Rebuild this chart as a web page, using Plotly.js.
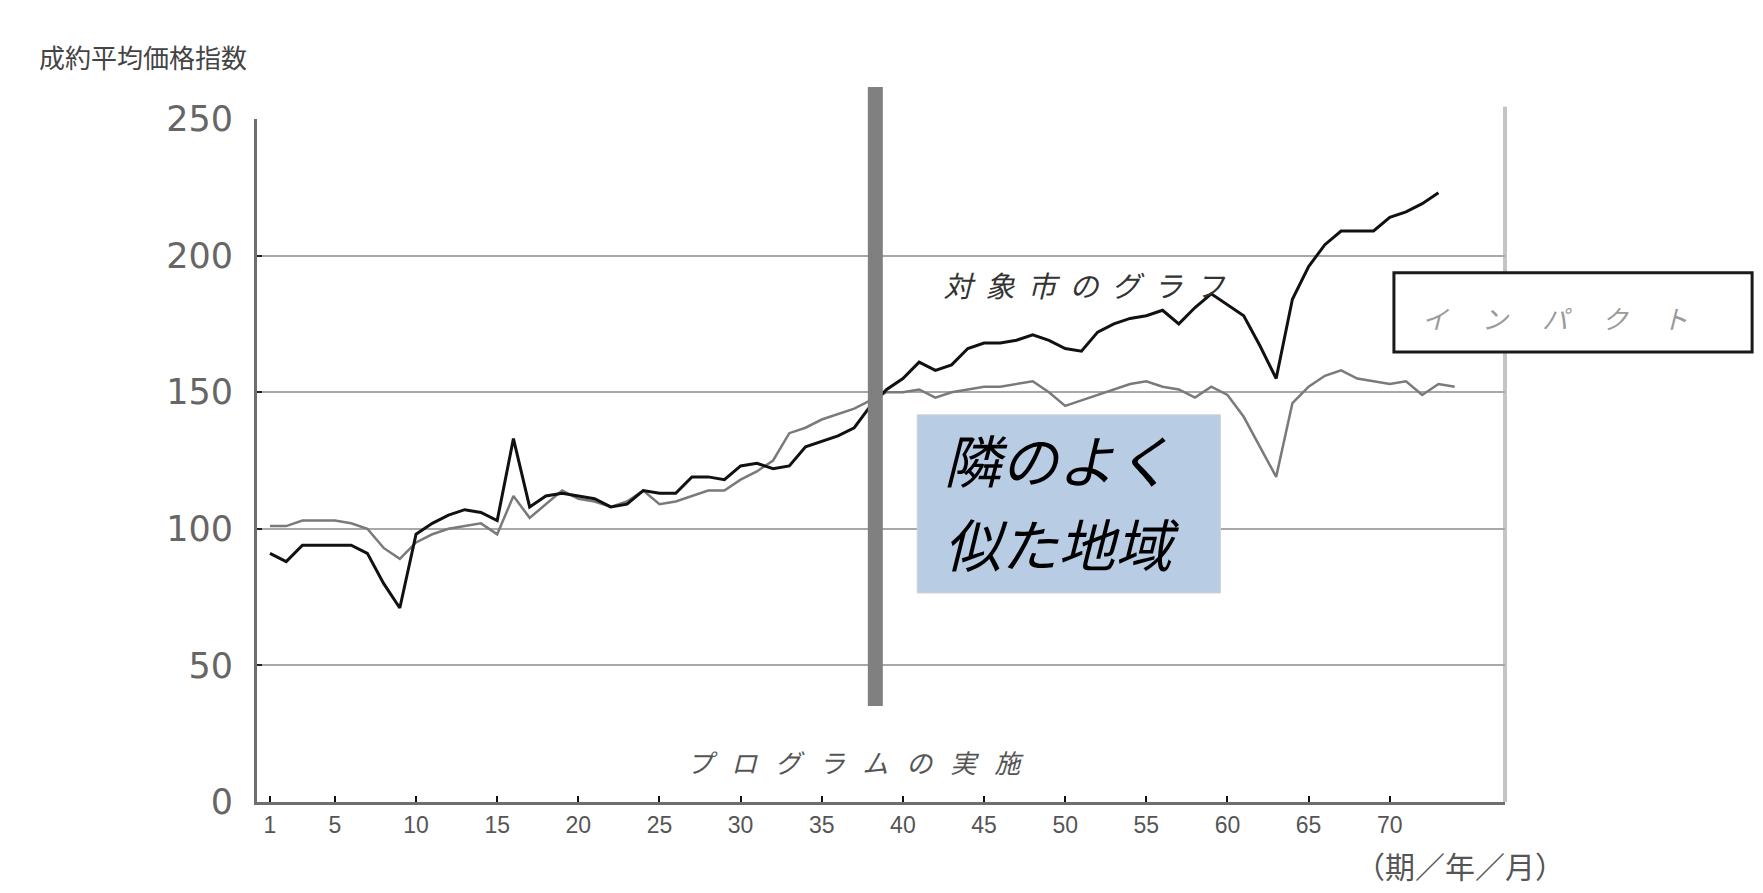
<!DOCTYPE html>
<html>
<head>
<meta charset="utf-8">
<script src="https://cdn.plot.ly/plotly-3.0.1.min.js"></script>
<style>
html,body{margin:0;padding:0;background:#fff;}
#chart{width:1763px;height:893px;}
.annotation[data-index="1"] .annotation-text{letter-spacing:13px;}
.annotation[data-index="2"] .annotation-text{letter-spacing:34px;}
.annotation[data-index="5"] .annotation-text{letter-spacing:18px;}
</style>
</head>
<body>
<div id="chart"></div>
<script>
// Tick labels for the period axis
const xTickVals = [1, 5, 10, 15, 20, 25, 30, 35, 40, 45, 50, 55, 60, 65, 70];
const xTickText = ["1", "5", "10", "15", "20", "25", "30", "35", "40", "45", "50", "55", "60", "65", "70"];
const yTickVals = [0, 50, 100, 150, 200, 250];

// 対象市 (target city) – black line
const targetCity = [91, 88, 94, 94, 94, 94, 91, 80, 71, 98,
  102, 105, 107, 106, 103, 133, 108, 112, 113, 112,
  111, 108, 109, 114, 113, 113, 119, 119, 118, 123,
  124, 122, 123, 130, 132, 134, 137, 145, 151, 155,
  161, 158, 160, 166, 168, 168, 169, 171, 169, 166,
  165, 172, 175, 177, 178, 180, 175, 181, 186, 182,
  178, 167, 155, 184, 196, 204, 209, 209, 209, 214,
  216, 219, 223];

// 隣のよく似た地域 (similar neighbouring region) – gray line
const neighbour = [101, 101, 103, 103, 103, 102, 100, 93, 89, 95,
  98, 100, 101, 102, 98, 112, 104, 109, 114, 111,
  110, 108, 110, 114, 109, 110, 112, 114, 114, 118,
  121, 125, 135, 137, 140, 142, 144, 147, 150, 150,
  151, 148, 150, 151, 152, 152, 153, 154, 150, 145,
  147, 149, 151, 153, 154, 152, 151, 148, 152, 149,
  141, 130, 119, 146, 152, 156, 158, 155, 154, 153,
  154, 149, 153, 152];

// Period at which the program was implemented
const programPeriod = 38.3;

const periodsTarget = targetCity.map((_, i) => i + 1);
const periodsNeighbour = neighbour.map((_, i) => i + 1);

const cjk = '"Noto Sans CJK JP", "Noto Sans", sans-serif';
const latin = '"Liberation Sans", Arial, sans-serif';

const traces = [
  {
    x: periodsNeighbour, y: neighbour, type: 'scatter', mode: 'lines',
    name: '隣のよく似た地域',
    line: {color: '#7a7a7a', width: 2.5},
    hoverinfo: 'skip'
  },
  {
    x: periodsTarget, y: targetCity, type: 'scatter', mode: 'lines',
    name: '対象市',
    line: {color: '#111111', width: 3},
    hoverinfo: 'skip'
  }
];

const layout = {
  width: 1763, height: 893,
  paper_bgcolor: '#ffffff', plot_bgcolor: '#ffffff',
  showlegend: false,
  margin: {l: 257, r: 258, t: 119, b: 91},
  xaxis: {
    range: [0.2, 77.1],
    tickvals: xTickVals, ticktext: xTickText,
    showgrid: false, zeroline: false,
    showline: true, linecolor: '#6e6e6e', linewidth: 3,
    ticks: 'inside', ticklen: 6, tickwidth: 2, tickcolor: '#111',
    tickfont: {family: latin, size: 23, color: '#555'},
    fixedrange: true
  },
  yaxis: {
    range: [0, 250],
    tickvals: yTickVals,
    showgrid: true, gridcolor: '#a8a8a8', gridwidth: 2,
    zeroline: false,
    showline: true, linecolor: '#6e6e6e', linewidth: 3,
    ticks: 'inside', ticklen: 5, tickwidth: 2, tickcolor: '#222',
    ticklabelstandoff: 14,
    tickfont: {family: '"DejaVu Sans", sans-serif', size: 35, color: '#666'},
    fixedrange: true
  },
  shapes: [
    // right border of the plot
    {type: 'line', xref: 'paper', yref: 'paper', x0: 1.0, x1: 1.0, y0: 0, y1: 1.018,
     line: {color: '#c4c4c4', width: 4}, layer: 'below'},
    // program implementation bar
    {type: 'line', xref: 'x', yref: 'paper', x0: programPeriod, x1: programPeriod, y0: 0.1405, y1: 1.047,
     line: {color: '#808080', width: 15}, layer: 'above'},
    // blue box
    {type: 'rect', xref: 'paper', yref: 'paper', x0: 0.529, x1: 0.772, y0: 0.306, y1: 0.567,
     fillcolor: '#b8cce4', line: {color: '#d4d4d4', width: 1}, layer: 'above'},
    // impact box
    {type: 'rect', xref: 'paper', yref: 'paper', x0: 0.911, x1: 1.198, y0: 0.659, y1: 0.775,
     fillcolor: '#ffffff', line: {color: '#1a1a1a', width: 3}, layer: 'above'}
  ],
  annotations: [
    {text: '成約平均価格指数', xref: 'paper', yref: 'paper', x: -0.091, y: 1.091,
     showarrow: false, xanchor: 'center', yanchor: 'middle',
     font: {family: cjk, size: 26, color: '#444'}},
    {text: '対象市のグラフ', xref: 'paper', yref: 'paper', x: 0.668, y: 0.758,
     showarrow: false, xanchor: 'center', yanchor: 'middle',
     font: {family: cjk, size: 29, color: '#333', style: 'italic'}},
    {text: 'インパクト', xref: 'paper', yref: 'paper', x: 1.054, y: 0.709,
     showarrow: false, xanchor: 'center', yanchor: 'middle',
     font: {family: cjk, size: 26, color: '#9a9a9a', style: 'italic'}},
    {text: '隣のよく', xref: 'paper', yref: 'paper', x: 0.549, y: 0.503,
     showarrow: false, xanchor: 'left', yanchor: 'middle', align: 'left',
     font: {family: cjk, size: 57, color: '#000', style: 'italic'}},
    {text: '似た地域', xref: 'paper', yref: 'paper', x: 0.549, y: 0.381,
     showarrow: false, xanchor: 'left', yanchor: 'middle', align: 'left',
     font: {family: cjk, size: 57, color: '#000', style: 'italic'}},
    {text: 'プログラムの実施', xref: 'paper', yref: 'paper', x: 0.487, y: 0.0586,
     showarrow: false, xanchor: 'center', yanchor: 'middle',
     font: {family: cjk, size: 26, color: '#555', style: 'italic'}},
    {text: '（期／年／月）', xref: 'paper', yref: 'paper', x: 0.964, y: -0.092,
     showarrow: false, xanchor: 'center', yanchor: 'middle',
     font: {family: cjk, size: 30, color: '#555'}}
  ]
};

Plotly.newPlot('chart', traces, layout, {displayModeBar: false, staticPlot: true});
</script>
</body>
</html>
